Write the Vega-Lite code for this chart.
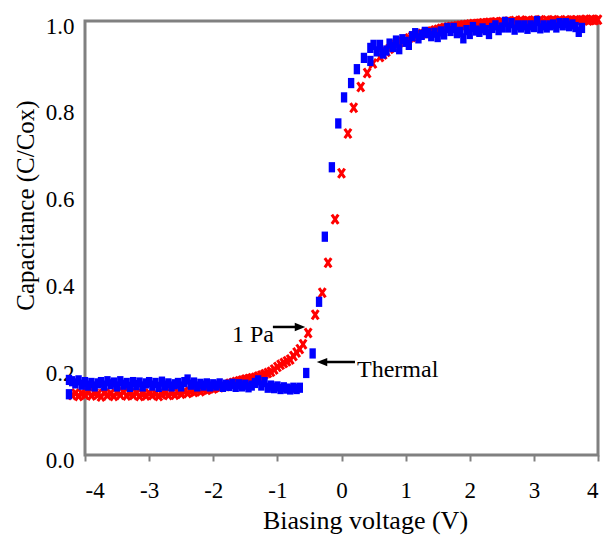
{
  "$schema": "https://vega.github.io/schema/vega-lite/v6.json",
  "width": 513,
  "height": 434,
  "autosize": {"type": "none"},
  "padding": {"left": 85, "top": 21, "right": 10, "bottom": 80},
  "background": "white",
  "config": {
    "view": {"stroke": "#808080", "strokeWidth": 3},
    "font": "Liberation Serif",
    "axis": {"grid": false, "domain": false, "labelFont": "Liberation Serif", "titleFont": "Liberation Serif", "labelColor": "black", "titleColor": "black", "titleFontWeight": "normal"}
  },
  "datasets": {
    "pa": [
      {"v":-4.2,"c":0.138},{"v":-4.15,"c":0.142},{"v":-4.1,"c":0.136},{"v":-4.05,"c":0.141},{"v":-4.0,"c":0.139},{"v":-3.95,"c":0.144},{"v":-3.9,"c":0.137},{"v":-3.85,"c":0.142},{"v":-3.8,"c":0.14},{"v":-3.75,"c":0.135},{"v":-3.7,"c":0.143},{"v":-3.65,"c":0.138},{"v":-3.6,"c":0.141},{"v":-3.55,"c":0.136},{"v":-3.5,"c":0.143},{"v":-3.45,"c":0.139},{"v":-3.4,"c":0.145},{"v":-3.35,"c":0.137},{"v":-3.3,"c":0.141},{"v":-3.25,"c":0.138},{"v":-3.2,"c":0.143},{"v":-3.15,"c":0.136},{"v":-3.1,"c":0.14},{"v":-3.05,"c":0.137},{"v":-3.0,"c":0.142},{"v":-2.95,"c":0.138},{"v":-2.9,"c":0.141},{"v":-2.85,"c":0.136},{"v":-2.8,"c":0.14},{"v":-2.75,"c":0.143},{"v":-2.7,"c":0.138},{"v":-2.65,"c":0.142},{"v":-2.6,"c":0.139},{"v":-2.55,"c":0.144},{"v":-2.5,"c":0.141},{"v":-2.45,"c":0.146},{"v":-2.4,"c":0.143},{"v":-2.35,"c":0.147},{"v":-2.3,"c":0.145},{"v":-2.25,"c":0.149},{"v":-2.2,"c":0.147},{"v":-2.15,"c":0.151},{"v":-2.1,"c":0.15},{"v":-2.05,"c":0.154},{"v":-2.0,"c":0.153},{"v":-1.95,"c":0.157},{"v":-1.9,"c":0.156},{"v":-1.85,"c":0.16},{"v":-1.8,"c":0.159},{"v":-1.75,"c":0.164},{"v":-1.7,"c":0.166},{"v":-1.65,"c":0.168},{"v":-1.6,"c":0.17},{"v":-1.55,"c":0.172},{"v":-1.5,"c":0.174},{"v":-1.45,"c":0.175},{"v":-1.4,"c":0.177},{"v":-1.35,"c":0.178},{"v":-1.3,"c":0.181},{"v":-1.25,"c":0.183},{"v":-1.2,"c":0.186},{"v":-1.15,"c":0.189},{"v":-1.1,"c":0.192},{"v":-1.05,"c":0.197},{"v":-1.0,"c":0.203},{"v":-0.95,"c":0.208},{"v":-0.9,"c":0.212},{"v":-0.85,"c":0.216},{"v":-0.8,"c":0.22},{"v":-0.75,"c":0.228},{"v":-0.7,"c":0.236},{"v":-0.65,"c":0.244},{"v":-0.6,"c":0.255},{"v":-0.52,"c":0.281},{"v":-0.41,"c":0.323},{"v":-0.3,"c":0.374},{"v":-0.21,"c":0.443},{"v":-0.1,"c":0.543},{"v":0.0,"c":0.649},{"v":0.1,"c":0.741},{"v":0.19,"c":0.8},{"v":0.3,"c":0.848},{"v":0.4,"c":0.88},{"v":0.49,"c":0.902},{"v":0.6,"c":0.917},{"v":0.65,"c":0.923},{"v":0.7,"c":0.929},{"v":0.75,"c":0.936},{"v":0.8,"c":0.942},{"v":0.85,"c":0.946},{"v":0.9,"c":0.95},{"v":0.95,"c":0.953},{"v":1.0,"c":0.957},{"v":1.05,"c":0.96},{"v":1.1,"c":0.963},{"v":1.15,"c":0.966},{"v":1.2,"c":0.968},{"v":1.25,"c":0.97},{"v":1.3,"c":0.972},{"v":1.35,"c":0.974},{"v":1.4,"c":0.976},{"v":1.45,"c":0.978},{"v":1.5,"c":0.98},{"v":1.55,"c":0.982},{"v":1.6,"c":0.984},{"v":1.65,"c":0.985},{"v":1.7,"c":0.986},{"v":1.75,"c":0.987},{"v":1.8,"c":0.988},{"v":1.85,"c":0.989},{"v":1.9,"c":0.99},{"v":1.95,"c":0.991},{"v":2.0,"c":0.992},{"v":2.05,"c":0.993},{"v":2.1,"c":0.993},{"v":2.15,"c":0.994},{"v":2.2,"c":0.995},{"v":2.25,"c":0.995},{"v":2.3,"c":0.996},{"v":2.35,"c":0.996},{"v":2.4,"c":0.997},{"v":2.45,"c":0.996},{"v":2.5,"c":0.998},{"v":2.55,"c":0.997},{"v":2.6,"c":0.999},{"v":2.65,"c":0.998},{"v":2.7,"c":1.0},{"v":2.75,"c":0.998},{"v":2.8,"c":1.001},{"v":2.85,"c":0.999},{"v":2.9,"c":1.0},{"v":2.95,"c":0.999},{"v":3.0,"c":1.001},{"v":3.05,"c":1.0},{"v":3.1,"c":1.002},{"v":3.15,"c":0.999},{"v":3.2,"c":1.001},{"v":3.25,"c":1.0},{"v":3.3,"c":1.002},{"v":3.35,"c":1.0},{"v":3.4,"c":1.001},{"v":3.45,"c":0.999},{"v":3.5,"c":1.002},{"v":3.55,"c":1.0},{"v":3.6,"c":1.001},{"v":3.65,"c":1.002},{"v":3.7,"c":1.0},{"v":3.75,"c":1.002},{"v":3.8,"c":1.003},{"v":3.85,"c":1.001},{"v":3.9,"c":1.003},{"v":3.95,"c":1.002},{"v":4.0,"c":1.003}
    ],
    "thermal": [
      {"v":-4.25,"c":0.14},{"v":-4.25,"c":0.173},{"v":-4.2,"c":0.17},{"v":-4.15,"c":0.165},{"v":-4.1,"c":0.172},{"v":-4.05,"c":0.162},{"v":-4.0,"c":0.168},{"v":-3.95,"c":0.16},{"v":-3.9,"c":0.166},{"v":-3.85,"c":0.158},{"v":-3.8,"c":0.165},{"v":-3.75,"c":0.168},{"v":-3.7,"c":0.16},{"v":-3.65,"c":0.17},{"v":-3.6,"c":0.163},{"v":-3.55,"c":0.167},{"v":-3.5,"c":0.158},{"v":-3.45,"c":0.17},{"v":-3.4,"c":0.162},{"v":-3.35,"c":0.166},{"v":-3.3,"c":0.157},{"v":-3.25,"c":0.168},{"v":-3.2,"c":0.161},{"v":-3.15,"c":0.167},{"v":-3.1,"c":0.158},{"v":-3.05,"c":0.165},{"v":-3.0,"c":0.168},{"v":-2.95,"c":0.16},{"v":-2.9,"c":0.166},{"v":-2.85,"c":0.157},{"v":-2.8,"c":0.169},{"v":-2.75,"c":0.16},{"v":-2.7,"c":0.165},{"v":-2.65,"c":0.158},{"v":-2.6,"c":0.163},{"v":-2.55,"c":0.166},{"v":-2.5,"c":0.158},{"v":-2.45,"c":0.168},{"v":-2.4,"c":0.174},{"v":-2.35,"c":0.162},{"v":-2.3,"c":0.167},{"v":-2.25,"c":0.158},{"v":-2.2,"c":0.164},{"v":-2.15,"c":0.16},{"v":-2.1,"c":0.165},{"v":-2.05,"c":0.158},{"v":-2.0,"c":0.163},{"v":-1.95,"c":0.16},{"v":-1.9,"c":0.165},{"v":-1.85,"c":0.157},{"v":-1.8,"c":0.162},{"v":-1.75,"c":0.159},{"v":-1.7,"c":0.164},{"v":-1.65,"c":0.157},{"v":-1.6,"c":0.163},{"v":-1.55,"c":0.158},{"v":-1.5,"c":0.162},{"v":-1.45,"c":0.156},{"v":-1.4,"c":0.16},{"v":-1.35,"c":0.166},{"v":-1.3,"c":0.172},{"v":-1.25,"c":0.16},{"v":-1.2,"c":0.168},{"v":-1.15,"c":0.155},{"v":-1.1,"c":0.16},{"v":-1.05,"c":0.154},{"v":-1.0,"c":0.158},{"v":-0.95,"c":0.152},{"v":-0.9,"c":0.156},{"v":-0.85,"c":0.153},{"v":-0.8,"c":0.151},{"v":-0.75,"c":0.155},{"v":-0.7,"c":0.152},{"v":-0.65,"c":0.155},{"v":-0.55,"c":0.189},{"v":-0.45,"c":0.234},{"v":-0.35,"c":0.353},{"v":-0.26,"c":0.503},{"v":-0.15,"c":0.663},{"v":-0.05,"c":0.764},{"v":0.04,"c":0.824},{"v":0.15,"c":0.857},{"v":0.24,"c":0.889},{"v":0.35,"c":0.915},{"v":0.45,"c":0.908},{"v":0.45,"c":0.938},{"v":0.5,"c":0.945},{"v":0.55,"c":0.93},{"v":0.6,"c":0.945},{"v":0.65,"c":0.925},{"v":0.7,"c":0.932},{"v":0.75,"c":0.948},{"v":0.8,"c":0.94},{"v":0.85,"c":0.955},{"v":0.9,"c":0.935},{"v":0.95,"c":0.958},{"v":1.0,"c":0.952},{"v":1.05,"c":0.945},{"v":1.1,"c":0.965},{"v":1.15,"c":0.972},{"v":1.2,"c":0.96},{"v":1.25,"c":0.968},{"v":1.3,"c":0.975},{"v":1.35,"c":0.972},{"v":1.4,"c":0.965},{"v":1.45,"c":0.973},{"v":1.5,"c":0.963},{"v":1.55,"c":0.976},{"v":1.6,"c":0.969},{"v":1.65,"c":0.984},{"v":1.7,"c":0.977},{"v":1.75,"c":0.984},{"v":1.8,"c":0.972},{"v":1.85,"c":0.975},{"v":1.9,"c":0.96},{"v":1.95,"c":0.979},{"v":2.0,"c":0.97},{"v":2.05,"c":0.986},{"v":2.1,"c":0.978},{"v":2.15,"c":0.975},{"v":2.2,"c":0.983},{"v":2.25,"c":0.979},{"v":2.3,"c":0.97},{"v":2.35,"c":0.984},{"v":2.4,"c":0.99},{"v":2.45,"c":0.979},{"v":2.5,"c":0.985},{"v":2.55,"c":0.998},{"v":2.6,"c":0.985},{"v":2.65,"c":0.995},{"v":2.7,"c":0.98},{"v":2.75,"c":0.99},{"v":2.8,"c":0.985},{"v":2.85,"c":0.99},{"v":2.9,"c":0.982},{"v":2.95,"c":0.99},{"v":3.0,"c":0.986},{"v":3.05,"c":1.0},{"v":3.1,"c":0.983},{"v":3.15,"c":0.99},{"v":3.2,"c":0.985},{"v":3.25,"c":0.99},{"v":3.3,"c":0.992},{"v":3.35,"c":0.985},{"v":3.4,"c":0.995},{"v":3.45,"c":0.99},{"v":3.5,"c":0.995},{"v":3.55,"c":0.988},{"v":3.6,"c":0.992},{"v":3.65,"c":0.986},{"v":3.7,"c":0.975},{"v":3.75,"c":0.984}
    ],
    "arrows": [
      {"v1":-1.07,"v2":-0.7,"c":0.295},
      {"v1":-0.3,"v2":0.21,"c":0.214}
    ],
    "heads": [
      {"v":-0.647,"c":0.295,"shape":"M-1,-0.8L1,0L-1,0.8Z"},
      {"v":-0.304,"c":0.214,"shape":"M1,-0.8L-1,0L1,0.8Z"}
    ],
    "labels": [
      {"v":-1.708,"c":0.26,"text":"1 Pa"},
      {"v":0.242,"c":0.18,"text":"Thermal"}
    ]
  },
  "encoding": {
    "x": {
      "field": "v", "type": "quantitative",
      "scale": {"domain": [-4, 4], "nice": false, "zero": false},
      "axis": {
        "title": "Biasing voltage (V)", "values": [-4,-3,-2,-1,0,1,2,3,4], "format": "d",
        "labelExpr": "replace(datum.label, '−', '-')",
        "labelFontSize": 23, "labelPadding": 18, "tickSize": 6, "tickWidth": 2, "tickColor": "#808080",
        "titleFontSize": 26, "titleX": 280, "titleY": 73, "titleBaseline": "alphabetic", "titleAlign": "center"
      }
    },
    "y": {
      "field": "c", "type": "quantitative",
      "scale": {"domain": [0, 1], "nice": false, "zero": false},
      "axis": {
        "title": "Capacitance (C/Cox)", "values": [0,0.2,0.4,0.6,0.8,1.0], "format": ".1f",
        "labelFontSize": 23, "ticks": false, "tickSize": 0, "labelPadding": 11, "labelOffset": 5,
        "titleFontSize": 25, "titleX": -52, "titleY": 184, "titleAngle": -90, "titleBaseline": "alphabetic", "titleAlign": "center"
      }
    }
  },
  "layer": [
    {
      "data": {"name": "pa"},
      "mark": {"type": "point", "shape": "M-0.7,-1L0.7,1M-0.7,1L0.7,-1", "filled": false, "stroke": "#ff0000", "strokeWidth": 3, "size": 85, "opacity": 1}
    },
    {
      "data": {"name": "thermal"},
      "mark": {"type": "point", "shape": "M-0.62,-1H0.62V1H-0.62Z", "filled": true, "fill": "#0000ff", "strokeWidth": 0, "size": 105, "opacity": 1}
    },
    {
      "data": {"name": "arrows"},
      "mark": {"type": "rule", "color": "black", "strokeWidth": 2.5},
      "encoding": {
        "x": {"field": "v1", "type": "quantitative"},
        "x2": {"field": "v2"},
        "y": {"field": "c", "type": "quantitative"}
      }
    },
    {
      "data": {"name": "heads"},
      "mark": {"type": "point", "filled": true, "fill": "black", "strokeWidth": 0, "size": 110, "opacity": 1},
      "encoding": {
        "shape": {"field": "shape", "type": "nominal", "scale": null}
      }
    },
    {
      "data": {"name": "labels"},
      "mark": {"type": "text", "align": "left", "baseline": "alphabetic", "fontSize": 24, "font": "Liberation Serif", "color": "black"},
      "encoding": {
        "text": {"field": "text", "type": "nominal"}
      }
    }
  ]
}
